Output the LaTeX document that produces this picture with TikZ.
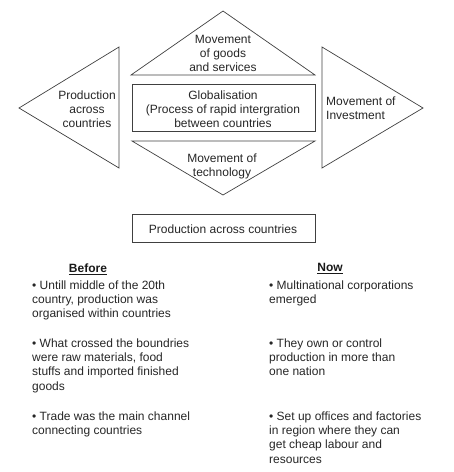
\documentclass[tikz,border=0pt]{standalone}
\usepackage{fontspec}
\setmainfont{Liberation Sans}
\begin{document}
\begin{tikzpicture}[x=1pt,y=-1pt,
  shp/.style={draw=black!75,line width=0.7pt,line join=miter},
  txt/.style={inner sep=0pt,text=black!85,font=\fontsize{12}{14}\selectfont,align=center,anchor=north},
  blist/.style={inner sep=0pt,text=black!85,font=\fontsize{12}{14.2}\selectfont,align=left,anchor=north west},
  head/.style={inner sep=0pt,text=black!90,font=\fontsize{12}{14}\selectfont\bfseries,anchor=north}]
\useasboundingbox (0,0) rectangle (454,472);
% shapes
\draw[shp] (131,75) -- (223,11) -- (315,75) -- cycle;
\draw[shp] (119,47) -- (19,108) -- (119,168) -- cycle;
\draw[shp] (322,47) -- (423,108) -- (322,168) -- cycle;
\draw[shp] (132,84) rectangle (315,131);
\draw[shp] (132,141) -- (315,141) -- (223,195) -- cycle;
\draw[shp] (132,214) rectangle (315,242);
% texts
\node[txt] (goods) at (223,35.5) {Movement\\of goods\\and services};
\node[txt] (prod) at (87,90.5) {Production\\across\\countries};
\node[txt,align=left,anchor=north west] (inv) at (326,96.5) {Movement of\\Investment};
\node[txt] (glob) at (223,90.5) {Globalisation\\(Process of rapid intergration\\between countries};
\node[txt] (tech) at (222,153.5) {Movement of\\technology};
\node[txt] (prodb) at (223,224.5) {Production across countries};
\node[head] (before) at (88,263.5) {\underline{Before}};
\node[head] (now) at (330,263.5) {\underline{Now}};
\node[blist] (b1) at (32,280.5) {• Untill middle of the 20th\\country, production was\\organised within countries};
\node[blist] (b2) at (32,338.5) {• What crossed the boundries\\were raw materials, food\\stuffs and imported finished\\goods};
\node[blist] (b3) at (32,411.5) {• Trade was the main channel\\connecting countries};
\node[blist] (n1) at (269,280.5) {• Multinational corporations\\emerged};
\node[blist] (n2) at (269,338.5) {• They own or control\\production in more than\\one nation};
\node[blist] (n3) at (269,411.5) {• Set up offices and factories\\in region where they can\\get cheap labour and\\resources};
\end{tikzpicture}
\end{document}
